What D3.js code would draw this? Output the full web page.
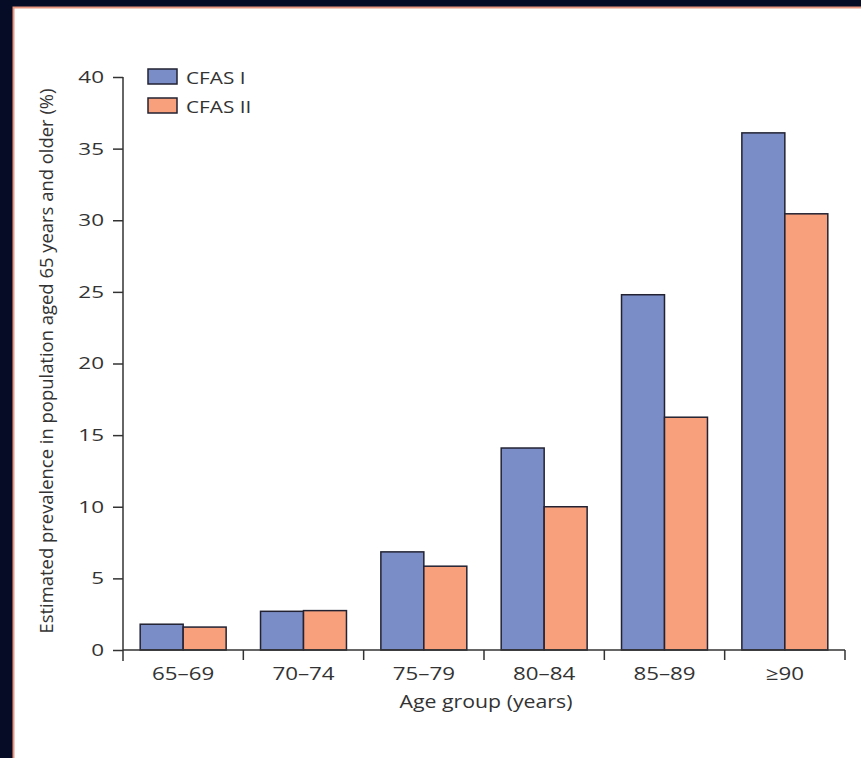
<!DOCTYPE html>
<html>
<head>
<meta charset="utf-8">
<script src="https://cdn.jsdelivr.net/npm/d3@7"></script>
<style>
  body { margin: 0; background: #060b26; }
  svg { display: block; }
  text { font-family: "Open Sans", "DejaVu Sans", sans-serif; fill: #333; }
</style>
</head>
<body>
<div id="chart"></div>
<script>
// data
const ageGroups = ["65–69", "70–74", "75–79", "80–84", "85–89", "≥90"];
const seriesNames = ["CFAS I", "CFAS II"];
const cfas1 = [1.8, 2.7, 6.85, 14.1, 24.8, 36.1];
const cfas2 = [1.6, 2.75, 5.85, 10.0, 16.25, 30.45];
const yTicks = [0, 5, 10, 15, 20, 25, 30, 35, 40];

const colors = {"CFAS I": "#7b8dc6", "CFAS II": "#f8a07c"};

const width = 861, height = 758;
const margin = {top: 77, right: 16, bottom: 108, left: 123};

// the original typeface is wider than Open Sans, so stretch text horizontally
function widen(sel, factor) {
    sel.each(function() {
        const w = this.getComputedTextLength();
        d3.select(this)
            .attr("textLength", w * factor)
            .attr("lengthAdjust", "spacingAndGlyphs");
    });
}

const svg = d3.select("#chart").append("svg")
    .attr("width", width)
    .attr("height", height);

// white panel with thin salmon edge
svg.append("rect")
    .attr("x", 13.5).attr("y", 7.5)
    .attr("width", width).attr("height", height)
    .attr("fill", "#fff")
    .attr("stroke", "#e99780")
    .attr("stroke-width", 2);

const rows = ageGroups.map((g, i) => ({group: g, "CFAS I": cfas1[i], "CFAS II": cfas2[i]}));

const x = d3.scaleBand()
    .domain(ageGroups)
    .range([margin.left, width - margin.right])
    .padding(0);

const xSub = d3.scaleBand()
    .domain(seriesNames)
    .range([0, x.bandwidth()])
    .paddingInner(0)
    .paddingOuter(0.4);

const y = d3.scaleLinear()
    .domain([0, 40])
    .range([height - margin.bottom, margin.top]);

// bars
const groups = svg.append("g").selectAll("g")
    .data(rows)
    .join("g")
    .attr("transform", d => `translate(${x(d.group)},0)`);

groups.selectAll("rect")
    .data(d => seriesNames.map(s => ({key: s, value: d[s]})))
    .join("rect")
    .attr("x", d => xSub(d.key))
    .attr("y", d => y(d.value))
    .attr("width", xSub.bandwidth())
    .attr("height", d => y(0) - y(d.value))
    .attr("fill", d => colors[d.key])
    .attr("stroke", "#222233")
    .attr("stroke-width", 1.5);

// y axis
const yAxis = d3.axisLeft(y)
    .tickValues(yTicks)
    .tickSize(10)
    .tickSizeOuter(0)
    .tickPadding(9);

const yG = svg.append("g")
    .attr("transform", `translate(${margin.left},0)`)
    .call(yAxis);
yG.select(".domain").remove();
yG.append("line")
    .attr("x1", 0).attr("x2", 0)
    .attr("y1", y(40)).attr("y2", y(0) + 11)
    .attr("stroke", "#333").attr("stroke-width", 1.5);
yG.selectAll(".tick line").attr("stroke", "#333").attr("stroke-width", 1.5);
yG.selectAll(".tick text")
    .style("font-size", "17px")
    .attr("fill", "#333")
    .call(widen, 1.32);

// x axis: ticks at group boundaries
const xBounds = d3.scaleLinear()
    .domain([0, ageGroups.length])
    .range([margin.left, width - margin.right]);

const xAxisG = svg.append("g")
    .attr("transform", `translate(0,${y(0)})`);
xAxisG.append("line")
    .attr("x1", margin.left).attr("x2", width - margin.right)
    .attr("stroke", "#333").attr("stroke-width", 1.5);
xAxisG.selectAll(".bound")
    .data(d3.range(1, ageGroups.length + 1))
    .join("line")
    .attr("class", "bound")
    .attr("x1", d => xBounds(d)).attr("x2", d => xBounds(d))
    .attr("y1", 0).attr("y2", 10)
    .attr("stroke", "#333").attr("stroke-width", 1.5);
xAxisG.selectAll(".lab")
    .data(ageGroups)
    .join("text")
    .attr("class", "lab")
    .attr("x", d => x(d) + x.bandwidth() / 2)
    .attr("y", 30)
    .attr("text-anchor", "middle")
    .style("font-size", "18px")
    .text(d => d)
    .call(widen, 1.24);

// axis titles
svg.append("text")
    .attr("x", 486)
    .attr("y", 708)
    .attr("text-anchor", "middle")
    .style("font-size", "19px")
    .text("Age group (years)")
    .call(widen, 1.12);

svg.append("text")
    .attr("transform", `translate(53,361) rotate(-90)`)
    .attr("text-anchor", "middle")
    .style("font-size", "18px")
    .text("Estimated prevalence in population aged 65 years and older (%)")
    .attr("textLength", 545)
    .attr("lengthAdjust", "spacingAndGlyphs");

// legend
const legend = svg.append("g").selectAll("g")
    .data(seriesNames)
    .join("g")
    .attr("transform", (d, i) => `translate(148,${69 + i * 29})`);
legend.append("rect")
    .attr("width", 29).attr("height", 15)
    .attr("fill", d => colors[d])
    .attr("stroke", "#222233")
    .attr("stroke-width", 1.5);
legend.append("text")
    .attr("x", 38).attr("y", 14.5)
    .style("font-size", "17px")
    .text(d => d)
    .call(widen, 1.22);
</script>
</body>
</html>
